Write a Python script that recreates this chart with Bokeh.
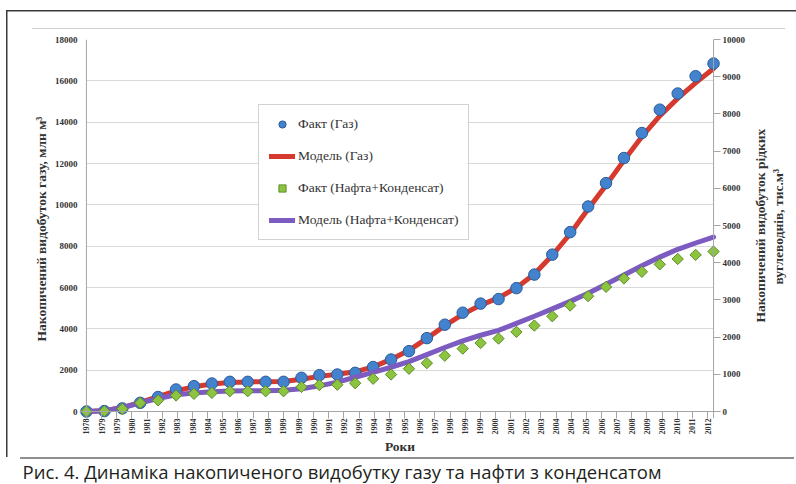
import numpy as np
from bokeh.plotting import figure
from bokeh.models import (Range1d, LinearAxis, FixedTicker, Legend, LegendItem,
                          Span, Title)
from bokeh.embed import file_html
from bokeh.resources import INLINE

# ---- data -------------------------------------------------------------
year_labels = ["1978", "1979", "1979", "1980", "1981", "1982", "1983", "1984",
               "1984", "1985", "1986", "1987", "1988", "1989", "1989", "1990",
               "1991", "1992", "1993", "1994", "1994", "1995", "1996", "1997",
               "1998", "1999", "1999", "2000", "2001", "2002", "2003", "2004",
               "2004", "2005", "2006", "2007", "2008", "2009", "2009", "2010",
               "2011", "2012"]

# cumulative gas production, mln m3 (left axis)
gas_fact = [0, 20, 150, 420, 700, 1065, 1225, 1355, 1435, 1435, 1435, 1435,
            1630, 1760, 1790, 1870, 2150, 2515, 2920, 3550, 4200, 4780, 5220,
            5440, 5970, 6625, 7590, 8680, 9920, 11050, 12265, 13475, 14605,
            15385, 16225, 16835]
gas_model = [0, 40, 190, 440, 720, 1000, 1200, 1330, 1400, 1430, 1440, 1450,
             1560, 1700, 1800, 1920, 2160, 2520, 2960, 3540, 4150, 4700, 5150,
             5500, 5990, 6650, 7560, 8600, 9800, 10950, 12150, 13300, 14300,
             15150, 15900, 16600]

# cumulative oil + condensate production, thousand m3 (right axis)
oil_fact = [0, 10, 70, 230, 300, 430, 475, 500, 545, 545, 545, 545, 660, 710,
            720, 760, 880, 995, 1150, 1300, 1500, 1690, 1840, 1960, 2140, 2310,
            2560, 2850, 3100, 3350, 3575, 3755, 3955, 4100, 4210, 4300]
oil_model = [0, 20, 100, 230, 350, 450, 500, 530, 550, 555, 560, 570, 610, 690,
             790, 920, 1050, 1190, 1340, 1530, 1720, 1900, 2050, 2180, 2370,
             2560, 2760, 2960, 3180, 3420, 3670, 3920, 4150, 4360, 4530, 4690]

gas_ticks = list(range(0, 18001, 2000))
oil_ticks = list(range(0, 10001, 1000))

right_title = ["Накопичений видобуток рідких", "вуглеводнів, тис.м³"]
caption_text = "Рис. 4. Динаміка накопиченого видобутку газу та нафти з конденсатом"

# ---- layout constants (px) ---------------------------------------------
W, H = 796, 484
FL, FR, FT, FB = 79, 723, 39, 418      # plot frame (padded so edge markers are whole)
AX_L, AX_R, AX_B = 86, 716, 411         # where the zero lines sit
BOX_BOTTOM = 457                        # bottom of the framed chart block
GAS_MAX, OIL_MAX = 18000, 10000
TITLE_MID_Y = 226                       # vertical centre of the right-hand title
TITLE_HALF_LEN = (96, 58)               # half text lengths of its two lines, px
TITLE_STANDOFF = (12, 0)

n_pts = len(gas_fact)
n_lab = len(year_labels) - 1
x_end = n_lab * 630 / 624               # points run slightly past the last label
x_pts = np.arange(n_pts) * x_end / (n_pts - 1)

ppx = (AX_R - AX_L) / x_end
x_start = -(AX_L - FL) / ppx
x_stop = x_end + (FR - AX_R) / ppx
ppy = (AX_B - FT) / GAS_MAX
y_start = -(FB - AX_B) / ppy
ratio = OIL_MAX / GAS_MAX

RED, PURPLE = "#d63a2f", "#7c5cc0"
BLUE, BLUE_EDGE = "#4382cc", "#2a5b9c"
GREEN, GREEN_EDGE = "#8cc43f", "#5e8d2a"
AXIS_GREY = "#a6a6a6"
TXT = "#333333"
SERIF = "Liberation Serif"

p = figure(width=W, height=H, output_backend="svg", toolbar_location=None,
           x_range=Range1d(x_start, x_stop), y_range=Range1d(y_start, GAS_MAX),
           min_border_left=FL, min_border_right=W - FR,
           min_border_top=FT, min_border_bottom=H - FB,
           background_fill_alpha=0, border_fill_alpha=0)
p.outline_line_color = None
p.extra_y_ranges = {"liquid": Range1d(y_start * ratio, OIL_MAX)}


def rule(color, x, y, w, h):
    return f"linear-gradient({color}, {color}) no-repeat {x}px {y}px / {w}px {h}px"


# page frame (dark top/left rules), light chart-area rule, grey rule above caption
p.styles = {
    "background": ", ".join([
        rule("#3a3a3a", 6, 10, 790, 1.5),
        rule("#3a3a3a", 6, 10, 1.5, BOX_BOTTOM - 10),
        rule("#cfcfcf", 32, 28, 753, 1),
        rule("#8f8f8f", 20, BOX_BOTTOM, 774, 2),
        "white",
    ]),
}

# ---- axes ----------------------------------------------------------------
def style_axis(ax, size, tick_in):
    ax.axis_line_color = None
    ax.major_tick_line_color = AXIS_GREY
    ax.minor_tick_line_color = None
    ax.major_tick_in = tick_in
    ax.major_tick_out = 0
    ax.major_label_text_font = SERIF
    ax.major_label_text_font_style = "bold"
    ax.major_label_text_font_size = size
    ax.major_label_text_color = TXT
    ax.axis_label_text_font = SERIF
    ax.axis_label_text_font_style = "bold"
    ax.axis_label_text_font_size = "13.5px"
    ax.axis_label_text_color = TXT

yl = p.yaxis[0]
yl.ticker = FixedTicker(ticks=gas_ticks)
yl.axis_label = "Накопичений видобуток газу, млн м³"
style_axis(yl, "9px", 0)
yl.major_label_standoff = 2
yl.axis_label_standoff = 3

xa = p.xaxis[0]
xa.ticker = FixedTicker(ticks=list(range(len(year_labels))))
xa.major_label_overrides = {i: s for i, s in enumerate(year_labels)}
xa.major_label_orientation = np.pi / 2
xa.axis_label = "Роки"
style_axis(xa, "8px", FB - AX_B)
xa.major_label_standoff = 0
xa.axis_label_standoff = 1

yr = LinearAxis(y_range_name="liquid", ticker=FixedTicker(ticks=oil_ticks))
style_axis(yr, "9px", FR - AX_R)
yr.major_label_standoff = 2
p.add_layout(yr, "right")

# right-hand title: two lines read bottom to top, each centred on TITLE_MID_Y
# (a rotated label starts at its tick, so the tick sits half a line lower)
for line, half, standoff in zip(right_title, TITLE_HALF_LEN, TITLE_STANDOFF):
    tick = (AX_B - (TITLE_MID_Y + half)) / ppy
    ax = LinearAxis(ticker=FixedTicker(ticks=[tick]),
                    major_label_overrides={tick: line})
    style_axis(ax, "13.5px", 0)
    ax.major_tick_line_color = None
    ax.major_label_orientation = np.pi / 2
    ax.major_label_standoff = standoff
    p.add_layout(ax, "right")

# axis rules at the zero positions
for loc, dim in ((0, "height"), (x_end, "height"), (0, "width")):
    p.add_layout(Span(location=loc, dimension=dim, line_color=AXIS_GREY,
                      line_width=1))

p.xgrid.visible = False
p.ygrid.ticker = FixedTicker(ticks=gas_ticks)
p.ygrid.grid_line_color = "#d9d9d9"
if "cross_bounds" in p.ygrid[0].properties():
    p.ygrid.cross_bounds = (0, x_end)

# ---- series ------------------------------------------------------------
r_gm = p.line(x_pts, gas_model, line_color=RED, line_width=5,
              line_join="round", line_cap="round")
r_gf = p.scatter(x_pts, gas_fact, marker="circle", size=11.5,
                 fill_color=BLUE, line_color=BLUE_EDGE, line_width=1)
r_om = p.line(x_pts, oil_model, y_range_name="liquid", line_color=PURPLE,
              line_width=5, line_join="round", line_cap="round")
r_of = p.scatter(x_pts, oil_fact, y_range_name="liquid", marker="square",
                 angle=np.pi / 4, size=8, fill_color=GREEN,
                 line_color=GREEN_EDGE, line_width=1)

legend = Legend(items=[
    LegendItem(label="Факт (Газ)", renderers=[r_gf]),
    LegendItem(label="Модель (Газ)", renderers=[r_gm]),
    LegendItem(label="Факт (Нафта+Конденсат)", renderers=[r_of]),
    LegendItem(label="Модель (Нафта+Конденсат)", renderers=[r_om]),
], location=(258 - FL, FB - 240))
legend.border_line_color = AXIS_GREY
legend.background_fill_color = "white"
legend.padding = 10
legend.spacing = 14
legend.margin = 0
legend.label_height = 14
legend.glyph_height = 18
legend.glyph_width = 26
legend.label_standoff = 3
legend.label_text_font = SERIF
legend.label_text_font_size = "13.5px"
legend.label_text_color = TXT
p.add_layout(legend)

# ---- caption under the chart --------------------------------------------
p.add_layout(Title(text=caption_text, align="left", offset=22 - FL, standoff=1,
                   text_font="Open Sans", text_font_style="normal",
                   text_font_size="18.5px", text_color="#231f20"), "below")

open("out.html", "w").write(file_html(p, INLINE))
